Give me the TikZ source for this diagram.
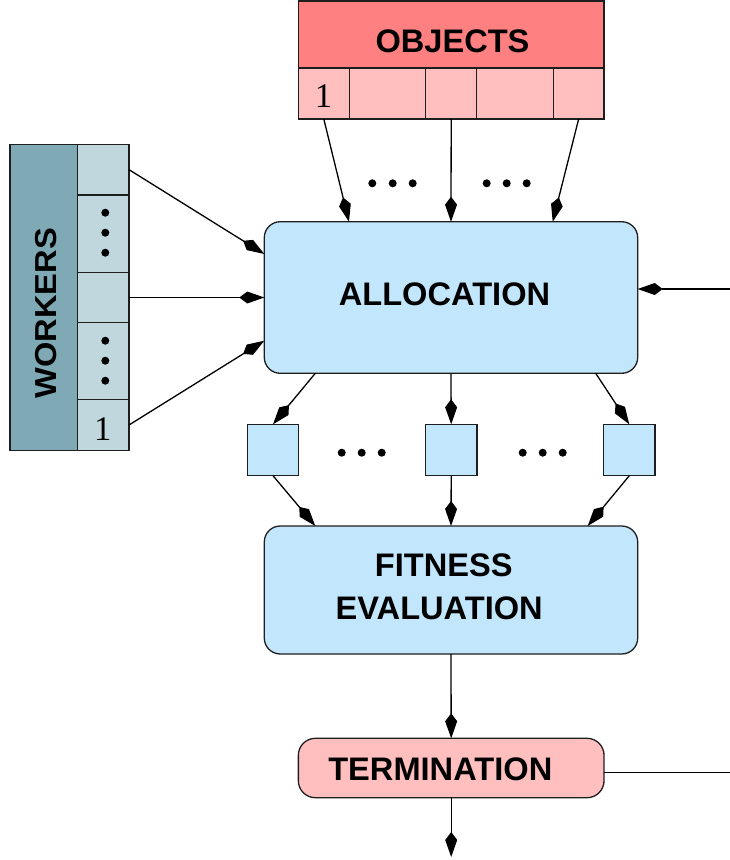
\documentclass[tikz,border=0pt]{standalone}
\usepackage{fontspec}
\setmainfont{Liberation Serif}
\setsansfont{Liberation Sans}
\usetikzlibrary{arrows.meta}
\definecolor{objHead}{RGB}{255,128,128}
\definecolor{objCell}{RGB}{255,191,191}
\definecolor{boxBlue}{RGB}{194,230,252}
\definecolor{wDark}{RGB}{127,169,181}
\definecolor{wCell}{RGB}{192,216,221}
\definecolor{edge}{RGB}{30,30,30}
\tikzset{
  cellbox/.style={draw=edge, line width=1.3pt, inner sep=0pt, outer sep=0pt, rectangle},
  roundbox/.style={cellbox, rounded corners=16pt},
  lbl/.style={inner sep=0pt, anchor=base, font=\sffamily\bfseries\fontsize{32.6}{38}\selectfont},
  numlbl/.style={inner sep=0pt, anchor=base, font=\rmfamily\fontsize{34.5}{40}\selectfont},
  arr/.style={line width=1.3pt, -{Kite[length=25pt,width=12pt,inset=8pt]}},
  plainline/.style={line width=1.3pt},
  dotmark/.style={fill=black}
}
\begin{document}
\begin{tikzpicture}[x=1pt,y=-1pt]
\useasboundingbox (0,0) rectangle (730,860);

% OBJECTS
\node[cellbox, fill=objHead, minimum width=305.7pt, minimum height=67pt] (objH) at (451.15,34.5) {};
\node[cellbox, fill=objCell, minimum width=51pt, minimum height=51pt] (o1) at (323.8,93.5) {};
\node[cellbox, fill=objCell, minimum width=76.4pt, minimum height=51pt] (o2) at (387.5,93.5) {};
\node[cellbox, fill=objCell, minimum width=51pt, minimum height=51pt] (o3) at (451.2,93.5) {};
\node[cellbox, fill=objCell, minimum width=76.6pt, minimum height=51pt] (o4) at (515.0,93.5) {};
\node[cellbox, fill=objCell, minimum width=50.7pt, minimum height=51pt] (o5) at (578.65,93.5) {};
\node[lbl] (objT) at (452.5,52.7) {OBJECTS};
\node[numlbl] (o1T) at (323.5,107.7) {1};

% WORKERS
\node[cellbox, fill=wDark, minimum width=67.7pt, minimum height=306.4pt] (wk) at (43.85,297.5) {};
\node[cellbox, fill=wCell, minimum width=51.3pt, minimum height=50.7pt] (w1) at (103.35,169.65) {};
\node[cellbox, fill=wCell, minimum width=51.3pt, minimum height=77.3pt] (w2) at (103.35,233.65) {};
\node[cellbox, fill=wCell, minimum width=51.3pt, minimum height=50.4pt] (w3) at (103.35,297.5) {};
\node[cellbox, fill=wCell, minimum width=51.3pt, minimum height=76.6pt] (w4) at (103.35,361.0) {};
\node[cellbox, fill=wCell, minimum width=51.3pt, minimum height=51.4pt] (w5) at (103.35,425.0) {};
\node[lbl, rotate=90] (wkT) at (56,313.3) {\scalebox{1}[0.93]{WORKERS}};
\node[numlbl] (w5T) at (102.8,440) {1};
\foreach \y in {212.7,232.7,252.7,340.7,360.7,380.7} \fill[dotmark] (105.3,\y) circle (4pt);

% ALLOCATION
\node[roundbox, fill=boxBlue, minimum width=373.4pt, minimum height=151.6pt] (alloc) at (451,297.5) {};
\node[lbl] (allocT) at (444.5,305.3) {ALLOCATION};

% small squares
\node[cellbox, fill=boxBlue, minimum width=51.4pt, minimum height=51.4pt] (s1) at (273,450) {};
\node[cellbox, fill=boxBlue, minimum width=51.4pt, minimum height=51.4pt] (s2) at (451.2,450) {};
\node[cellbox, fill=boxBlue, minimum width=51.4pt, minimum height=51.4pt] (s3) at (629.3,450) {};
\foreach \x in {341.7,361.7,381.7,522.7,542.7,562.7} \fill[dotmark] (\x,452.7) circle (4pt);
\foreach \x in {372.3,392.7,412.7,486.7,506.7,526.7} \fill[dotmark] (\x,183.3) circle (4pt);

% FITNESS
\node[roundbox, fill=boxBlue, minimum width=373.4pt, minimum height=128pt] (fit) at (451,590) {};
\node[lbl] (fitT1) at (443.8,576.7) {FITNESS};
\node[lbl] (fitT2) at (439.2,619.3) {EVALUATION};

% TERMINATION
\node[roundbox, rounded corners=17pt, fill=objCell, minimum width=305.7pt, minimum height=59.4pt] (term) at (451.2,768) {};
\node[lbl] (termT) at (440.3,780.7) {TERMINATION};

% free ends
\coordinate (rin) at (730,289);
\coordinate (rout) at (730,772.3);
\coordinate (bout) at (451.2,857);

% connectors
\draw[arr] (o1.south) -- ([xshift=84.7pt]alloc.north west);
\draw[arr] (o3.south) -- (alloc.north);
\draw[arr] (o5.south) -- ([xshift=-85pt]alloc.north east);
\draw[arr] (w1.east) -- ([yshift=43.5pt]alloc.west);
\draw[arr] (w3.east) -- (alloc.west);
\draw[arr] (w5.east) -- ([yshift=-43.2pt]alloc.west);
\draw[arr] (rin) -- ([yshift=8.5pt]alloc.east);
\draw[arr] ([xshift=51pt]alloc.south west) -- (s1.north);
\draw[arr] (alloc.south) -- (s2.north);
\draw[arr] ([xshift=-42pt]alloc.south east) -- (s3.north);
\draw[arr] (s1.south) -- ([xshift=51pt]fit.north west);
\draw[arr] (s2.south) -- (fit.north);
\draw[arr] (s3.south) -- ([xshift=-50pt]fit.north east);
\draw[arr] (fit.south) -- (term.north);
\draw[arr] (term.south) -- (bout);
\draw[plainline] ([yshift=-4.3pt]term.east) -- (rout);
\end{tikzpicture}
\end{document}
